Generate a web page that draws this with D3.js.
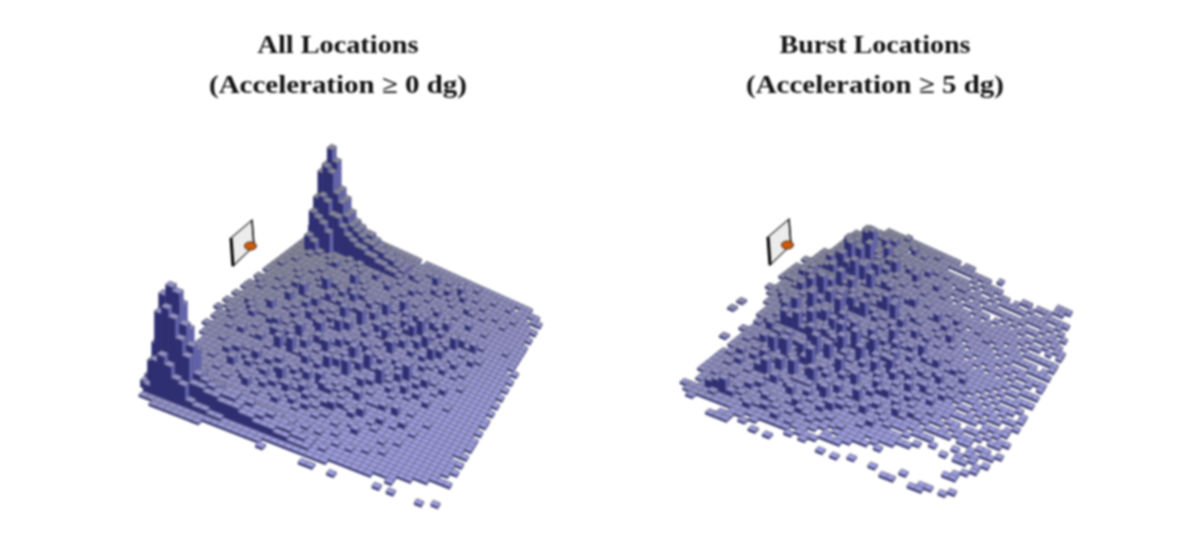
<!DOCTYPE html>
<html><head><meta charset="utf-8">
<script src="https://cdn.jsdelivr.net/npm/d3@7/dist/d3.min.js"></script>
<style>html,body{margin:0;padding:0;background:#fff}svg{display:block;filter:blur(.9px)}</style>
</head><body><svg id="c" width="1200" height="533"></svg>
<script>
// Bar heights per court cell (base-36 digit, "." = no bar). One string per row, grouped in tens.
const allLocations = [
".......... .......... ....1.1.1. 11.1.11111 1111111...",
".......... .......... 1.11.11111 1121111211 111169a61.",
".......... ........11 1111211111 1211111112 116cflmd5.",
"...34..... ...1.11111 1112111311 1111211111 125bgnrf51",
".14aec61.. ...1111111 1211113111 1121111211 112afmoc4.",
".1cosma41. .111111121 1111131112 1112112111 1118chh93.",
"11eqvsc511 1111211111 1311112141 1111311121 1121cff93.",
"11couqb411 2111113111 1112112111 1411121112 1211acc711",
"119jmk9311 1121111311 1211131112 1115111211 13118aa611",
"118fhf7311 1111411121 1311141111 2112112411 1112799511",
"1148a96311 1211113111 1114112131 1321115111 1221688511",
"1138986311 1112131411 2114111211 1141211311 1112678411",
"1137876311 1131112111 1511312114 2111411211 1121577411",
".127765311 1411121311 1121151112 1311213115 1111566411",
".126775311 1112411131 1611121141 1121311411 2111465311",
".116775311 2131113111 1214211511 3111214112 1131455311",
".116664211 1113151121 1311141112 1151211311 1111354311",
".115564211 1211211311 4112131115 1211311211 1121344211",
".115553211 3114112131 1211512111 4111213111 1311233211",
".114553211 1121211411 3111214121 1161112311 111211111.",
".114452211 1311421111 1512111321 1211411121 2111131111",
"1.14441111 2113111511 1141312111 3112115111 1211121111",
"..13442211 1311214111 2111151131 1141211211 1131111211",
"..13431111 1121113121 1611211411 1211311151 1112111111",
"..12331211 2113111211 1114113112 1511211311 2111114111",
"..12321111 1214112131 1211611211 3112141111 1121311111",
"..12221211 1111311121 4111213115 1211311412 1111211211",
"1.11111111 2111211411 1311121111 1411512131 1211131111",
"1.11211121 1113111112 1161211311 1112161111 3111211121",
"..11112111 1211411211 1112113111 3141121411 1112114111",
"...1111111 3111111211 1311411121 1115121311 2111131111",
"1..1112111 1112111311 2111161111 3112113141 1211111121",
"...1111111 1121311111 1141112131 1511121111 1113112111",
"...1111211 1111111411 1211311112 1141311211 1112111111",
"...1111111 2111211111 1131141111 2111151111 3111121111",
"...1111121 1111131121 1111112113 1121114111 1112111211",
"....111111 1211111111 1311211111 1311212111 1111111111",
".1..111111 1111211111 1111131112 1111114111 2111211111",
"...1111111 1111111211 1111111111 2113111211 1111111211",
".1...11111 1111111111 1121111211 1111211111 11121111.1",
".....11111 1111111111 1111111111 1111111111 1111121111",
"......1111 1111111111 1111111111 1111111111 1111111111",
"......1111 1111111111 1111111111 1111111121 1111111.1.",
".1.....111 1111111111 1111111111 1111111111 111111.11.",
".......1.1 111.111111 1111111111 11111.1111 11.1.1.1..",
"..1....1.. 1.1.1.111. 1.11.1.1.1 .1.1.1.... .........."
];
const burstLocations = [
".......... .......... .......... .......... ..........",
".......... .......... ..1.1..... .......... ..........",
".......... .......... .........1 ..1111.1.. ..........",
".......... .......... ........11 1121111111 1.........",
".......... ......1... ......1112 1121311111 1111111...",
".......... .........1 ...1111131 1211141213 112121111.",
"....1...11 1111.11111 1211111311 1415121311 41613111..",
"...11.1111 1112111211 1131214111 2151131415 1713161.1.",
"..1111.121 1211311121 1412111511 1316121171 8131711211",
"...1141211 1131112141 1216131112 1171412151 1612811111",
"...1251112 1111311211 4115113171 3112161141 3171214111",
"...1162111 1211141611 1317121131 1511131811 4112111311",
"1..1131211 1141311151 1113161412 1114151161 1311511112",
"11.1112131 1161121711 3114111512 1611311211 5113121111",
"1111121113 1211511212 1161312117 1141211611 1312111.21",
"..11311121 1411113161 1211415111 1611131121 1151111311",
".1.1121311 1121611411 7111311612 1413112141 1211211111",
"..11131211 1312111711 1214161311 1611211131 1113111211",
"1..1112111 4112141211 6113111511 1131411211 2111211111",
"...1311121 1112611311 1171214111 1311611311 1141111121",
"1..1112141 1311113112 1411711213 1121141111 1211311111",
"...1211311 2114121161 1211311511 2116111311 1111121111",
"..1.111211 1151111312 1161141121 1311211411 2111111.11",
"...1112113 1211411121 1311711311 1141121111 1131121.1.",
"..11.11211 4112111511 2114112161 1211311121 1111111.11",
"...1..1121 1311212111 1511311412 1111211111 1211.11.11",
"....11.111 1121511211 3112141121 1411112111 11.1211.1.",
".1..1.1211 1211113141 1161211131 1121114111 1.1121.11.",
"....111111 1141211311 1412113111 1311211121 11.11.1.1.",
".1...11112 1111311411 2113111151 1112131111 1.1.11.11.",
"......1111 3112111121 1141121311 1211111311 1.111.11..",
"..1...1.11 1121113111 4111311211 1114112111 .11.1.11.1",
".......111 1211411131 1121211411 1121111.11 11.1.1.1..",
"......1.11 1.11211212 1411131112 1111.11111 .1.11.1...",
"..1.....11 1.11131111 1211411211 111.111211 1..1.11...",
".........1 .1.1121113 1112111311 1.11111111 .1.1.1....",
".1.......1 ..11.11211 1311211121 11.1112111 1.11.11...",
".1........ 1.1.1.1111 1121113111 .11111.111 11.1.1.1..",
"...1...... ..1.1.1.11 1.11211111 1.111.1111 1.11.1.1..",
".......... .1..11.1.1 .1.1.11111 .111.11.11 11.11.1...",
".1........ ....1.11.1 .1.11.1111 11.11.1111 .11.11.1..",
".11....... 1....11..1 1.11.1.111 .11.1111.1 1.1.11.1..",
"..1....... ..1.11.1.1 .11.1.1.11 1.11.11.1. 1.1.1111..",
"......1... 11..11.1.. 1.11.1.1.1 .1.1.1.1.1 .1.11.1.11",
"..1...11.. 1.11..1.11 .11.1.1.1. 1.11.1.1.1 .11.1.1.11",
"...1....1. .11.1..1.1 .1.11.1.1. 1.1.11.1.. 1.11.11..1",
".........1 1..11.1.11 ..1.1.11.1 .11.1..1.1 .11.1.1...",
".......... .1.1..11.1 1.1..1.1.1 ..1.11.1.. 11.1......",
".......... ....1..1.. .1.11..1.1 .11.1.11.1 1........."
];
const titles = [["All Locations","(Acceleration \u2265 0 dg)"],["Burst Locations","(Acceleration \u2265 5 dg)"]];
const titleWidths = [[161,258],[191,258]];

const cols = 50;
const svg = d3.select("#c");
const hScale = d3.scaleLinear().domain([0,1,4,6,10,35]).range([0,2.2,10,17,30,122]);
const topColor = d3.scaleLinear().domain([0,.45,1]).range(["#84848e","#8a8abc","#9c9ce8"]);

function drawPlot(rawRows, corners, titleX, lines, widths, icon){
  const rows = rawRows.map(r=>r.replace(/ /g,""));
  const {L,T,R,B} = corners;
  const fu = d3.scaleLinear().domain([0,cols]).range([0,1]);
  const fv = d3.scaleLinear().domain([0,rows.length]).range([0,1]);
  const project = (u,v)=>{
    const a=fu(u), b=fv(v);
    const p0=[L[0]+(T[0]-L[0])*a, L[1]+(T[1]-L[1])*a];
    const p1=[B[0]+(R[0]-B[0])*a, B[1]+(R[1]-B[1])*a];
    return [p0[0]+(p1[0]-p0[0])*b, p0[1]+(p1[1]-p0[1])*b];
  };
  const cells=[];
  rows.forEach((row,v)=>{ for(let u=cols-1;u>=0;u--){
    const h=parseInt(row[u]||".",36); if(h>0) cells.push({u,v,h});
  }});
  const g=svg.append("g");
  const poly=pts=>"M"+pts.map(p=>p[0].toFixed(2)+","+p[1].toFixed(2)).join("L")+"Z";
  const up=(p,h)=>[p[0],p[1]-hScale(h)];
  const bar=g.selectAll("g.b").data(cells).join("g").attr("class","b");
  bar.append("path").attr("fill","#2e2e72").attr("stroke","#2a2a62").attr("stroke-width",.3)
    .attr("d",d=>{const a=project(d.u,d.v),b=project(d.u,d.v+1);return poly([a,b,up(b,d.h),up(a,d.h)]);});
  bar.append("path").attr("fill","#6464ac").attr("stroke","#50508a").attr("stroke-width",.3)
    .attr("d",d=>{const a=project(d.u,d.v+1),b=project(d.u+1,d.v+1);return poly([a,b,up(b,d.h),up(a,d.h)]);});
  bar.append("path")
    .attr("fill",d=>topColor(Math.min(1,Math.max(0,(d.v/rows.length)*.75+(1-d.u/cols)*.6))))
    .attr("stroke","#70707c").attr("stroke-width",.85)
    .attr("d",d=>poly([[d.u,d.v],[d.u+1,d.v],[d.u+1,d.v+1],[d.u,d.v+1]].map(c=>up(project(c[0],c[1]),d.h))));
  // backboard and rim
  const ic=svg.append("g").attr("transform",`translate(${icon[0]},${icon[1]})`);
  ic.append("path").attr("d","M0,18L21,0L23,26L2,46Z").attr("fill","#ececec").attr("stroke","#444").attr("stroke-width",1.3);
  ic.append("path").attr("d","M0,18L2,46").attr("stroke","#000").attr("stroke-width",3).attr("fill","none");
  ic.append("path").attr("d","M21,0L23,26").attr("stroke","#111").attr("stroke-width",1.5).attr("fill","none");
  ic.append("ellipse").attr("cx",19.5).attr("cy",26).attr("rx",6).attr("ry",4).attr("fill","#d25a08").attr("stroke","#3a2010").attr("stroke-width",1);
  // titles
  svg.selectAll(null).data(lines).join("text").attr("x",titleX).attr("y",(d,i)=>53+i*40)
    .attr("text-anchor","middle").attr("font-family","'Liberation Serif',serif").attr("font-weight","bold")
    .attr("font-size",25).attr("fill","#111")
    .attr("textLength",(d,i)=>widths[i]).attr("lengthAdjust","spacingAndGlyphs").text(d=>d);
}
drawPlot(allLocations,{L:[106,389],T:[330,220],R:[552,320],B:[433,517]},338,titles[0],titleWidths[0],[231,220]);
drawPlot(burstLocations,{L:[620,381],T:[850,213],R:[1087,320],B:[968,517]},875,titles[1],titleWidths[1],[768,219]);
</script></body></html>
